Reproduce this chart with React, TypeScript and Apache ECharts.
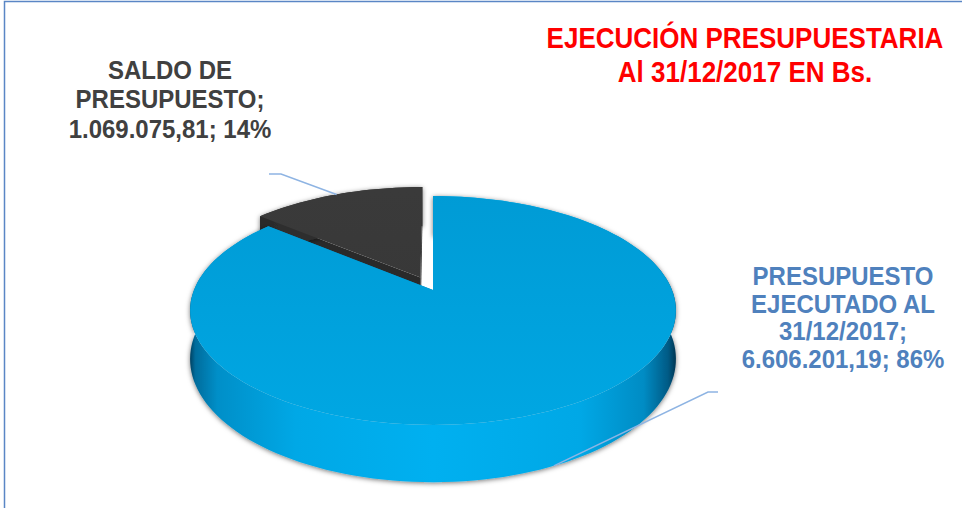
import React, { useEffect, useRef } from 'react';
import * as echarts from 'echarts';

// ---- data ----
const categories = ['PRESUPUESTO\nEJECUTADO AL\n31/12/2017', 'SALDO DE\nPRESUPUESTO'];
const values = [6606201.19, 1069075.81];
const titleLines = ['EJECUCIÓN PRESUPUESTARIA', 'Al 31/12/2017 EN Bs.'];

// ---- layout / style ----
const FONT = '"Liberation Sans", Arial, Helvetica, sans-serif';
const CX = 433;
const CY = 290;
const RX = 239;
const RY = 110.8;
const DEPTH = 47;
const PERSP = -0.179;
const EXPLODE = [0, 0.126];
const labelPos = [[843, 317], [170, 99]];
const labelLineHeight = [25, 26.5];
const labelColors = ['#4f81bd', '#404040'];
const leaderElbows = [[[708, 392], [718, 392]], [[281, 174], [269, 174]]];
const anchorDepth = [1, 0];
const TEXT_SCALE_Y = 1.1;

function proj(u: number, v: number, h: number): number[] {
  const s = 1 / (1 + PERSP * v);
  return [CX + RX * u * s, CY + RY * v * s + DEPTH * h * s];
}

function fmt(n: number): string {
  const [i, d] = n.toFixed(2).split('.');
  return i.replace(/\B(?=(\d{3})+(?!\d))/g, '.') + ',' + d;
}

function wallGradient(dark: boolean) {
  const stops = dark
    ? [
        { offset: 0, color: '#111111' },
        { offset: 0.03, color: '#222222' },
        { offset: 0.2, color: '#2e2e2e' },
        { offset: 0.5, color: '#333333' },
        { offset: 0.8, color: '#2e2e2e' },
        { offset: 1, color: '#111111' },
      ]
    : [
        { offset: 0, color: '#00324c' },
        { offset: 0.015, color: '#006c9c' },
        { offset: 0.06, color: '#008fc8' },
        { offset: 0.22, color: '#00a8e6' },
        { offset: 0.5, color: '#00b0f0' },
        { offset: 0.8, color: '#00a8e6' },
        { offset: 0.93, color: '#008cc4' },
        { offset: 0.98, color: '#005a85' },
        { offset: 1, color: '#002c44' },
      ];
  return new echarts.graphic.LinearGradient(CX - 245, 0, CX + 245, 0, stops, true);
}

function topGradient(dark: boolean) {
  const stops = dark
    ? [
        { offset: 0, color: '#3a3a3a' },
        { offset: 1, color: '#353535' },
      ]
    : [
        { offset: 0, color: '#009bd5' },
        { offset: 1, color: '#00a7e3' },
      ];
  return new echarts.graphic.LinearGradient(0, 190, 0, 430, stops, true);
}

export default function App() {
  const ref = useRef<HTMLDivElement>(null);

  useEffect(() => {
    if (!ref.current) return;
    const chart = echarts.init(ref.current, undefined, { renderer: 'svg' });
    const total = values.reduce((a, b) => a + b, 0);

    const renderItem = (params: any, api: any) => {
      const i = params.dataIndex;
      const value = api.value(0) as number;
      let start = 0;
      for (let k = 0; k < i; k++) start += (values[k] / total) * 360;
      const sweep = (value / total) * 360;
      const end = start + sweep;
      const mid = (start + end) / 2;
      const rad = (d: number) => (d * Math.PI) / 180;
      const e = EXPLODE[i] || 0;
      const eu = e * Math.sin(rad(mid));
      const ev = -e * Math.cos(rad(mid));
      const dark = i === 1;
      const N = Math.max(10, Math.ceil(sweep / 2));
      const rim = (h: number) => {
        const pts: number[][] = [];
        for (let k = 0; k <= N; k++) {
          const t = rad(start + (sweep * k) / N);
          pts.push(proj(eu + Math.sin(t), ev - Math.cos(t), h));
        }
        return pts;
      };
      const rimPt = (deg: number, h: number) =>
        proj(eu + Math.sin(rad(deg)), ev - Math.cos(rad(deg)), h);
      const apex0 = proj(eu, ev, 0);
      const apex1 = proj(eu, ev, 1);
      const top = rim(0);
      const bottom = rim(1);
      const base = Math.round(-Math.cos(rad(mid)) * 20);
      const sideColor = dark ? '#2a2a2a' : '#0082b8';

      const children: any[] = [];
      children.push({
        type: 'polygon',
        z2: base,
        shape: { points: [apex0, rimPt(start, 0), rimPt(start, 1), apex1] },
        style: { fill: sideColor },
      });
      children.push({
        type: 'polygon',
        z2: base,
        shape: { points: [apex0, rimPt(end, 0), rimPt(end, 1), apex1] },
        style: { fill: sideColor },
      });
      children.push({
        type: 'polygon',
        z2: base + 1,
        shape: { points: top.concat(bottom.slice().reverse()) },
        style: {
          fill: wallGradient(dark),
          shadowBlur: 5,
          shadowColor: 'rgba(0,0,0,0.55)',
          shadowOffsetY: 1,
        },
      });
      children.push({
        type: 'polygon',
        z2: base + 2,
        shape: { points: [apex0].concat(top) },
        style: { fill: topGradient(dark) },
      });

      const anchor = rimPt(mid, anchorDepth[i]);
      children.push({
        type: 'polyline',
        z2: 100,
        shape: { points: [anchor].concat(leaderElbows[i]) },
        style: { stroke: '#8eb4e3', lineWidth: 1.5, fill: null },
      });
      const pct = Math.round((value / total) * 100);
      children.push({
        type: 'text',
        z2: 101,
        x: labelPos[i][0],
        y: labelPos[i][1],
        scaleY: TEXT_SCALE_Y,
        style: {
          text: categories[i] + ';\n' + fmt(value) + '; ' + pct + '%',
          fill: labelColors[i],
          fontSize: 24,
          fontWeight: 'bold',
          fontFamily: FONT,
          lineHeight: labelLineHeight[i],
          align: 'center',
          verticalAlign: 'middle',
        },
      });
      return { type: 'group', children };
    };

    chart.setOption({
      animation: false,
      backgroundColor: '#ffffff',
      graphic: [
        {
          type: 'rect',
          shape: { x: 4.5, y: 1.5, width: 1200, height: 800 },
          style: { fill: null, stroke: '#5a86c5', lineWidth: 1.5 },
          z: -10,
        },
        {
          type: 'text',
          x: 745,
          y: 55,
          scaleY: TEXT_SCALE_Y,
          style: {
            text: titleLines.join('\n'),
            fill: '#ff0000',
            fontSize: 26,
            fontWeight: 'bold',
            fontFamily: FONT,
            lineHeight: 31,
            align: 'center',
            verticalAlign: 'middle',
          },
        },
      ],
      series: [
        {
          type: 'custom',
          coordinateSystem: 'none',
          renderItem,
          data: values.map((v, i) => ({ name: categories[i], value: [v] })),
        },
      ],
    });
    return () => chart.dispose();
  }, []);

  return (
    <div
      ref={ref}
      style={{ position: 'fixed', left: 0, top: 0, width: 962, height: 508 }}
    />
  );
}
